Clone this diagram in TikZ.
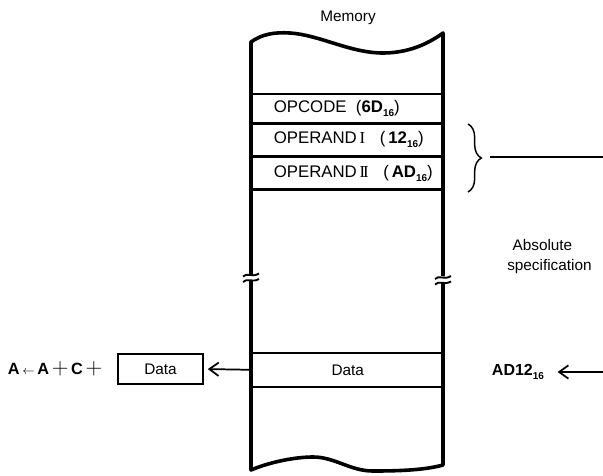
\documentclass[tikz,border=0pt]{standalone}
\usepackage{fontspec}
\setmainfont{Liberation Sans}
\newfontfamily\numfont{Liberation Serif}
\usetikzlibrary{positioning,arrows.meta,decorations.pathreplacing}

\newcommand{\hexsub}[1]{\raisebox{-0.45ex}{\fontsize{7.5}{8}\selectfont\bfseries #1}}
\newcommand{\romI}{{\numfont I}}
\newcommand{\romII}{{\numfont I\kern-0.13em I}}
\newcommand{\bigplus}{{\fontsize{16}{16}\selectfont$+$}}

\begin{document}
\begin{tikzpicture}[
        x=0.75pt, y=-0.75pt,
        font=\fontsize{11.5}{14}\selectfont,
        memline/.style={line width=2.7pt, line join=round},
        cell/.style={rectangle, draw, line width=1.2pt, minimum height=#1, text width=128pt, inner xsep=8pt, inner ysep=0pt, align=left, anchor=north west, font=\fontsize{12.6}{14}\selectfont, execute at begin node={\hspace*{8.5pt}}},
        datacell/.style={rectangle, draw, line width=1.2pt, minimum height=25.5pt, minimum width=144pt, inner sep=0pt, anchor=north west},
        databox/.style={rectangle, draw, line width=1.2pt, minimum width=63.75pt, minimum height=22.5pt, inner sep=0pt},
        txt/.style={inner sep=0pt},
        arrow/.style={line width=1.3pt, -{Straight Barb[length=7pt, width=10pt, line width=1.3pt]}},
        thickrule/.style={line width=2.4pt},
        bracestyle/.style={decorate, decoration={brace, amplitude=10pt}, line width=1.1pt}
    ]
        \useasboundingbox (0,0) rectangle (603,475);

        % --- Memory title ---
        \node (memtitle) [txt] at (348,18) {Memory};

        % --- Memory rows ---
        \node (opcode) [cell=21.75pt] at (251,93) {OPCODE\hspace{7pt}(\textbf{6D}\hexsub{16})};
        \node (operand1) [cell=23.25pt, below=0pt of opcode] {OPERAND\,\romI\hspace{11pt}(\,\textbf{12}\hexsub{16})};
        \node (operand2) [cell=24pt, below=0pt of operand1] {OPERAND\,\romII\hspace{11pt}(\,\textbf{AD}\hexsub{16})};
        \draw [thickrule] (opcode.south west) -- (opcode.south east);
        \draw [thickrule] (operand2.south west) -- (operand2.south east);

        \node (datarow) [datacell] at (251,352) {Data};

        % --- Memory outline ---
        \draw [memline] (251,274) -- (251,42)
            .. controls (262,34) and (275,32) .. (290,33)
            .. controls (320,35) and (350,53) .. (383,53)
            .. controls (408,53) and (428,44) .. (443,33)
            -- (443,276);
        \draw [memline] (251,281) -- (251,470)
            .. controls (270,462) and (295,457) .. (313,457)
            .. controls (335,457) and (350,471) .. (373,471)
            .. controls (400,471) and (425,470) .. (443,465)
            -- (443,283);

        % --- Break marks ---
        \foreach \bx/\by in {251/277, 443/279.5} {
            \draw [line width=1.4pt] (\bx-8,\by-0.5) .. controls (\bx-4,\by-5) and (\bx+1,\by+1) .. (\bx+8,\by-3.5);
            \draw [line width=1.4pt] (\bx-8,\by+5) .. controls (\bx-4,\by+0.5) and (\bx+1,\by+6) .. (\bx+8,\by+2);
        }

        % --- Left side ---
        \node (databox) [databox] at (160.5,369) {Data};
        \node (expr) [txt, left=11pt of databox, font=\fontsize{12.2}{14}\selectfont] {\textbf{A}\,{\small$\leftarrow$}\,\textbf{A}\,\bigplus\,\textbf{C}\,\bigplus};
        \draw [arrow, shorten >=3pt] (datarow.west) -- (databox.east);

        % --- Right side ---
        \coordinate (bracetop) at (468,124);
        \coordinate (bracebot) at (468,192);
        \draw [bracestyle] (bracetop) -- (bracebot);
        \coordinate (linestart) at (490,157);
        \coordinate (lineend) at (603,157);
        \draw [line width=1.1pt] (linestart) -- (lineend);

        \node (absspec) [txt, align=left, anchor=west, font=\fontsize{11.5}{15}\selectfont] at (507,257) {\hspace{4pt}Absolute\\specification};

        \node (ad12) [txt, font=\fontsize{12}{14}\selectfont] at (518,372) {\textbf{AD12}\hexsub{16}};
        \coordinate (adsrc) at (603,372);
        \draw [arrow, shorten >=10pt] (adsrc) -- (ad12);

    \end{tikzpicture}
\end{document}
